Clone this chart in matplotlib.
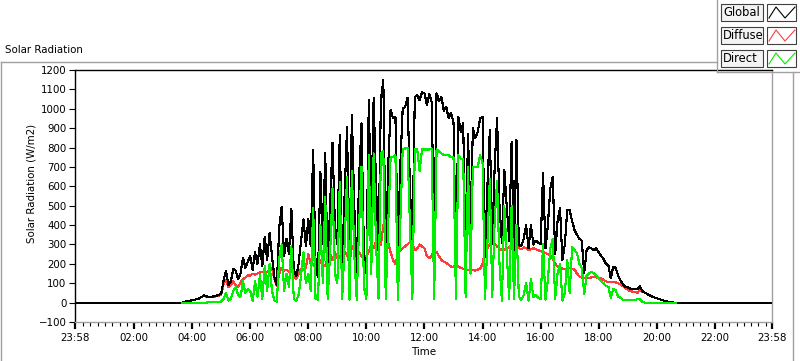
import numpy as np
import matplotlib
matplotlib.use("Agg")
import matplotlib.pyplot as plt
from matplotlib.patches import Rectangle
from matplotlib.lines import Line2D

# readings every 5 minutes, from 03:40 to 20:40 (W/m2)
start_min = 220
step_min = 5

global_rad = [
    0, 5, 8, 10,                                                   # 03:40
    12, 15, 18, 22, 30, 38, 32, 30, 30, 32, 35, 40,                # 04
    45, 115, 165, 90, 110, 175, 165, 120, 150, 230, 180, 210,      # 05
    240, 170, 260, 200, 300, 190, 340, 220, 360, 240, 130, 90,     # 06
    390, 495, 240, 330, 250, 485, 170, 135, 200, 320, 430, 290,    # 07
    430, 290, 787, 200, 130, 674, 300, 771, 160, 500, 823, 400,    # 08
    300, 865, 200, 560, 906, 170, 968, 500, 160, 650, 925, 250,    # 09
    150, 1045, 400, 1055, 600, 270, 1045, 1148, 200, 700, 994, 951,  # 10
    960, 260, 700, 1000, 1009, 1055, 600, 270, 1060, 1070, 1045, 1085,  # 11
    1080, 1020, 1075, 1035, 290, 1080, 1040, 1060, 990, 1010, 950, 980,  # 12
    930, 220, 957, 880, 925, 220, 870, 390, 900, 850, 880, 950,    # 13
    960, 235, 600, 890, 300, 700, 950, 500, 307, 684, 495, 320,    # 14
    830, 260, 838, 300, 290, 330, 400, 280, 400, 300, 320, 310,    # 15
    300, 668, 280, 400, 590, 648, 250, 420, 488, 220, 300, 478,    # 16
    478, 420, 375, 350, 330, 320, 153, 270, 285, 280, 270, 280,    # 17
    260, 240, 225, 200, 190, 125, 185, 180, 140, 115, 95, 80,      # 18
    78, 72, 70, 68, 70, 85, 60, 52, 45, 38, 32, 27,                # 19
    22, 18, 14, 10, 7, 4, 2, 0, 0,                                 # 20
]

diffuse_rad = [
    0, 5, 8, 10,
    12, 15, 18, 22, 30, 36, 30, 28, 28, 30, 33, 36,
    40, 95, 115, 80, 90, 110, 90, 80, 105, 120, 130, 140,
    140, 150, 145, 150, 155, 160, 150, 160, 165, 180, 120, 85,
    150, 180, 165, 170, 160, 185, 140, 120, 150, 175, 170, 180,
    250, 200, 200, 180, 170, 220, 200, 190, 230, 250, 220, 260,
    230, 240, 210, 260, 250, 200, 290, 270, 210, 260, 240, 230,
    240, 260, 300, 280, 320, 290, 300, 400, 350, 310, 260, 220,
    200, 250, 270, 280, 290, 300, 310, 300, 270, 280, 300, 290,
    280, 240, 230, 240, 270, 260, 240, 220, 210, 205, 195, 185,
    185, 200, 185, 180, 175, 170, 170, 165, 170, 165, 170, 175,
    200, 260, 280, 300, 310, 305, 290, 280, 270, 275, 280, 285,
    280, 270, 290, 280, 275, 285, 280, 270, 275, 280, 275, 270,
    265, 260, 255, 250, 240, 230, 200, 185, 180, 175, 175, 172,
    180, 175, 170, 150, 135, 130, 125, 125, 128, 130, 133, 130,
    128, 125, 118, 110, 105, 105, 106, 104, 100, 95, 85, 75,
    66, 60, 56, 56, 50, 67, 55, 52, 45, 38, 32, 27,
    22, 18, 14, 10, 7, 4, 2, 0, 0,
]

direct_rad = [
    0, 0, 0, 0,
    0, 0, 0, 0, 0, 0, 0, 2, 3, 5, 5, 5,
    5, 20, 50, 10, 20, 60, 80, 40, 30, 110, 50, 70,
    60, 10, 110, 30, 140, 20, 190, 60, 200, 60, 10, 5,
    230, 300, 60, 150, 80, 290, 20, 10, 40, 140, 260, 100,
    150, 60, 490, 20, 15, 400, 100, 545, 20, 250, 590, 150,
    100, 620, 20, 300, 650, 15, 680, 250, 15, 400, 700, 80,
    20, 760, 150, 770, 300, 20, 770, 780, 20, 400, 750, 750,
    760, 15, 400, 790, 795, 800, 400, 20, 790, 790, 680, 790,
    790, 790, 790, 795, 20, 790, 780, 770, 760, 760, 760, 750,
    750, 20, 760, 740, 740, 30, 700, 150, 700, 700, 700, 760,
    720, 20, 300, 640, 30, 420, 630, 200, 10, 500, 250, 20,
    500, 20, 400, 30, 15, 40, 100, 10, 120, 30, 40, 25,
    20, 300, 15, 120, 280, 330, 20, 150, 200, 10, 50, 220,
    50, 287, 270, 255, 200, 180, 45, 140, 150, 158, 150, 140,
    125, 110, 100, 85, 82, 25, 70, 65, 30, 25, 15, 12,
    12, 13, 14, 12, 20, 18, 5, 0, 0, 0, 0, 0,
    0, 0, 0, 0, 0, 0, 0, 0, 0,
]

x_start = -2 / 60          # 23:58 of the previous day
x_end = 24 - 2 / 60        # 23:58
tick_pos = [x_start, 2, 4, 6, 8, 10, 12, 14, 16, 18, 20, 22, x_end]
tick_labels = ["23:58", "02:00", "04:00", "06:00", "08:00", "10:00", "12:00",
               "14:00", "16:00", "18:00", "20:00", "22:00", "23:58"]

hours = (start_min + step_min * np.arange(len(global_rad))) / 60.0
t_global = np.r_[x_start, hours, x_end]
g_line = np.r_[0, global_rad, 0]

plt.rcParams["font.family"] = "DejaVu Sans"
plt.rcParams["font.size"] = 7.4

W, H = 800, 361
fig = plt.figure(figsize=(8.0, 3.61), dpi=100)
ax = fig.add_axes([75 / W, 1 - 322 / H, 697 / W, 252 / H])

ax.plot(hours, diffuse_rad, color="#ff3c3c", lw=0.8, antialiased=False, zorder=2)
ax.plot(t_global, g_line, color="black", lw=0.8, antialiased=False, zorder=3)
ax.plot(hours, direct_rad, color="#00ee00", lw=0.8, antialiased=False, zorder=4)

ax.set_xlim(x_start, x_end)
ax.set_ylim(-100, 1200)
ax.set_yticks(range(-100, 1300, 100))
ax.set_xticks(tick_pos)
ax.set_xticklabels(tick_labels)
ax.set_xticks(np.arange(0.25, 23.9, 0.25), minor=True)
ax.tick_params(axis="x", which="major", length=5, width=1.6, pad=3)
ax.tick_params(axis="x", which="minor", length=3, width=0.8)
ax.tick_params(axis="y", length=4, width=0.8, pad=2)

ax.spines["left"].set_color("black")
ax.spines["top"].set_color("black")
ax.spines["right"].set_color("#a0a0a0")
ax.spines["bottom"].set_color("#a0a0a0")
for s in ax.spines.values():
    s.set_linewidth(1.0)

ax.set_ylabel("Solar Radiation (W/m2)")
ax.yaxis.set_label_coords((37 - 75) / 697, 0.55)
ax.set_xlabel("Time")
ax.xaxis.set_label_coords(0.5, (322 - 347) / 252)


def fx(x):
    return x / W


def fy(y):
    return 1 - y / H


# outer frame of the graph
frame = "#a0a0a0"
fig.add_artist(Line2D([fx(0.5), fx(717)], [fy(62), fy(62)], color=frame, lw=1))
fig.add_artist(Line2D([fx(0.5), fx(0.5)], [fy(62), fy(361)], color=frame, lw=1))
fig.add_artist(Line2D([fx(793), fx(793)], [fy(72), fy(361)], color=frame, lw=1))
fig.add_artist(Line2D([fx(717), fx(717)], [fy(0), fy(72)], color=frame, lw=1))
fig.add_artist(Line2D([fx(717), fx(800)], [fy(72), fy(72)], color=frame, lw=1))

fig.text(fx(5), fy(50), "Solar Radiation", ha="left", va="center")

# legend
legend_names = ["Global", "Diffuse", "Direct"]
legend_colors = ["black", "#ff3c3c", "#00ee00"]
for i, (name, col) in enumerate(zip(legend_names, legend_colors)):
    top = 4 + 23 * i
    fig.add_artist(Rectangle((fx(721), fy(top + 17)), 42 / W, 17 / H,
                             transform=fig.transFigure, facecolor="#f4f4f4",
                             edgecolor="#404040", lw=0.8))
    fig.text(fx(723), fy(top + 8.5), name, ha="left", va="center", fontsize=8.3)
    fig.add_artist(Rectangle((fx(767), fy(top + 17)), 29 / W, 17 / H,
                             transform=fig.transFigure, facecolor="white",
                             edgecolor="#404040", lw=0.8))
    fig.add_artist(Line2D([fx(769), fx(776), fx(785), fx(795)],
                          [fy(top + 14), fy(top + 3), fy(top + 14), fy(top + 3)],
                          color=col, lw=0.8))

fig.savefig("out.png", dpi=100)
